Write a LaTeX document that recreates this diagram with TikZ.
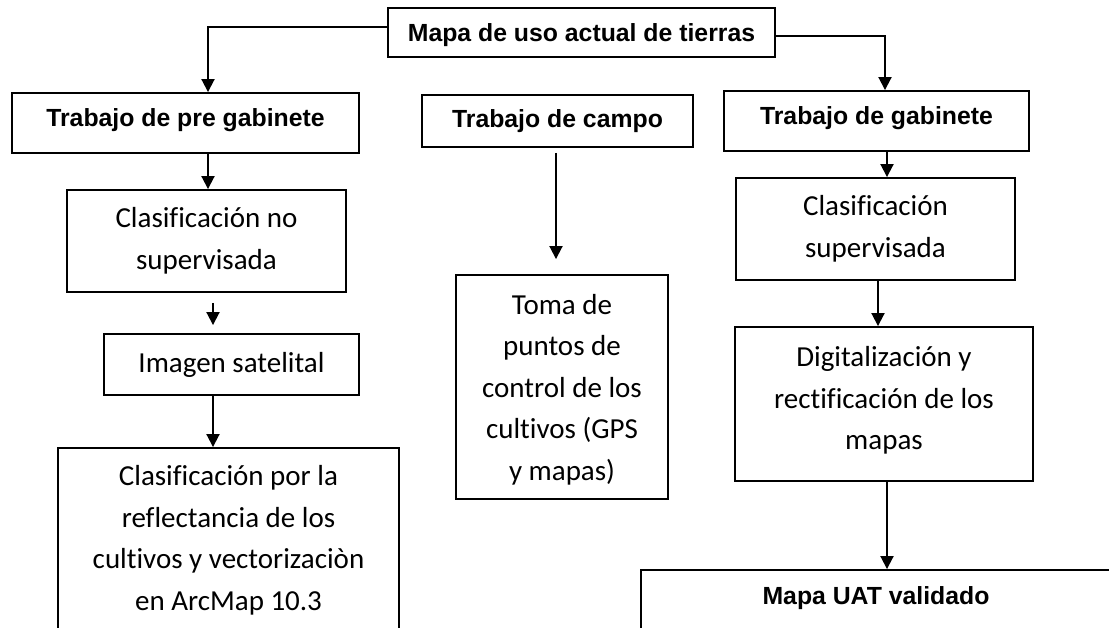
\documentclass[tikz,border=0pt]{standalone}
\usepackage{fontspec}
\setmainfont{Carlito}[Ligatures=NoCommon]
\newfontfamily\arial{Liberation Sans}
\usetikzlibrary{arrows.meta}
\begin{document}
\begin{tikzpicture}[x=1pt,y=-1pt,
  box/.style={draw, line width=1.9pt, inner sep=0pt, align=center},
  cal/.style={box, font=\fontsize{29}{41.5}\selectfont},
  ari/.style={box, font=\arial\bfseries\fontsize{24.8}{28}\selectfont, text height=18pt},
  arr/.style={line width=1.9pt, -{Triangle[length=13pt,width=13pt]}}]
\useasboundingbox (0,0) rectangle (1109,627);
\fill[white] (0,0) rectangle (1109,627);
\clip (0,0) rectangle (1109,627);

\node[ari, minimum width=387pt, minimum height=49pt, text depth=1pt] (top) at (581.5,32.5) {Mapa de uso actual de tierras};
\node[ari, minimum width=347pt, minimum height=60pt, text depth=12pt] (pre) at (185.5,123) {Trabajo de pre gabinete};
\node[ari, minimum width=271pt, minimum height=52pt, text depth=6pt] (campo) at (557.5,121) {Trabajo de campo};
\node[ari, minimum width=305pt, minimum height=60pt, text depth=12pt] (gab) at (876.5,121) {Trabajo de gabinete};

\node[cal, minimum width=279pt, minimum height=102pt] (ncs) at (206.5,241) {Clasificación no\\supervisada};
\node[cal, minimum width=255pt, minimum height=61pt] (img) at (231.5,364.5) {Imagen satelital};
\node[cal, minimum width=341pt, minimum height=185pt] (cpl) at (228.5,540.5) {Clasificación por la\\reflectancia de los\\cultivos y vectorizaciòn\\en ArcMap 10.3};

\node[cal, minimum width=212pt, minimum height=224pt, text depth=0pt] (toma) at (562,387) {Toma de\\puntos de\\control de los\\cultivos (GPS\\y mapas)};

\node[cal, minimum width=279pt, minimum height=102pt] (cs) at (875.5,229) {Clasificación\\supervisada};
\node[cal, minimum width=298pt, minimum height=154pt, text depth=12pt] (dig) at (884,404) {Digitalización y\\rectificación de los\\mapas};
\node[ari, minimum width=470pt, minimum height=64pt, text depth=14pt] (uat) at (876,602) {Mapa UAT validado};

\draw[arr] (top.west |- 0,27) -| (pre.north -| 208,0);
\draw[arr] (top.east |- 0,36) -| (gab.north -| 885,0);
\draw[arr] (pre.south -| 208,0) -- (ncs.north -| 208,0);
\draw[arr, shorten <=10pt, shorten >=8pt] (ncs.south -| 213,0) -- (img.north -| 213,0);
\draw[arr] (img.south -| 213,0) -- (cpl.north -| 213,0);
\draw[arr, shorten <=5pt, shorten >=15pt] (campo.south -| 556,0) -- (toma.north -| 556,0);
\draw[arr] (gab.south -| 887,0) -- (cs.north -| 887,0);
\draw[arr] (cs.south -| 878,0) -- (dig.north -| 878,0);
\draw[arr] (dig.south -| 887,0) -- (uat.north -| 887,0);
\end{tikzpicture}
\end{document}
